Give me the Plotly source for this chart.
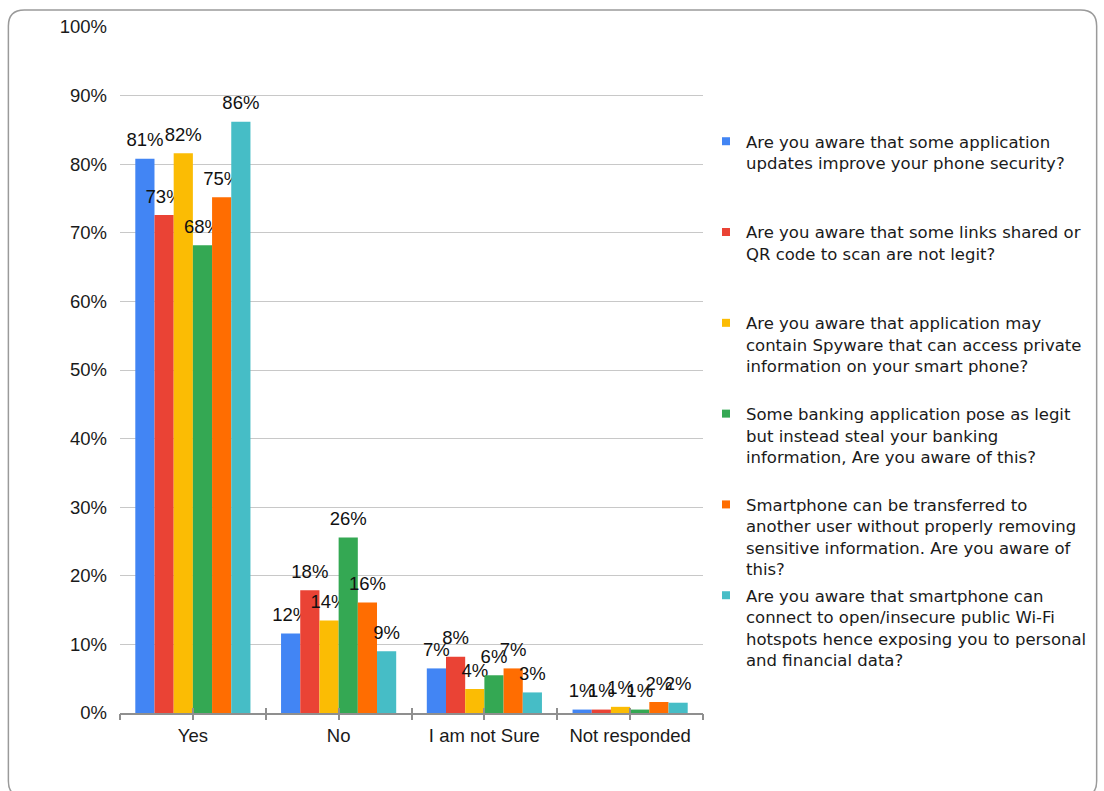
import math
import plotly.graph_objects as go

categories = ["Yes", "No", "I am not Sure", "Not responded"]

series_names = [
    "Are you aware that some application<br>updates improve your phone security?",
    "Are you aware that some links shared or<br>QR code to scan are not legit?",
    "Are you aware that application may<br>contain Spyware that can access private<br>information on your smart phone?",
    "Some banking application pose as legit<br>but instead steal your banking<br>information, Are you aware of this?",
    "Smartphone can be transferred to<br>another user without properly removing<br>sensitive information. Are you aware of<br>this?",
    "Are you aware that smartphone can<br>connect to open/insecure public Wi-Fi<br>hotspots hence exposing you to personal<br>and financial data?",
]

app_updates = [80.8, 11.6, 6.5, 0.5]
links_qr = [72.6, 17.9, 8.2, 0.5]
spyware = [81.6, 13.5, 3.5, 0.9]
banking = [68.2, 25.6, 5.5, 0.5]
transfer = [75.2, 16.1, 6.5, 1.6]
wifi = [86.2, 9.0, 3.0, 1.5]

series_values = [app_updates, links_qr, spyware, banking, transfer, wifi]
colors = ["#4285F4", "#EA4335", "#FBBC04", "#34A853", "#FF6D01", "#46BDC6"]

y_ticks = [0, 10, 20, 30, 40, 50, 60, 70, 80, 90, 100]

FONT = "Liberation Sans, Arial, sans-serif"
LEGEND_FONT = "DejaVu Sans, Liberation Sans, sans-serif"
TEXT_SIZE = 18.5

# plot area in pixels
W, H = 1104, 791
L, R, T, B = 120, 705, 27, 713


def px_x(p):
    return (p - L) / (R - L)


def px_y(p):
    return (B - p) / (B - T)


def label(v):
    return f"{math.floor(v + 0.5)}%"


fig = go.Figure()
for name, vals, col in zip(series_names, series_values, colors):
    fig.add_trace(go.Bar(
        x=categories, y=vals, name=name,
        marker=dict(color=col, line=dict(width=0)),
        text=[f"<span style='font-size:{TEXT_SIZE}px'>{label(v)}</span><br>"
              f"<span style='color:rgba(0,0,0,0)'>.</span>" for v in vals],
        textposition="outside",
        textfont=dict(family=FONT, size=6.5, color="#111111"),
        constraintext="none",
        cliponaxis=False,
        showlegend=False,
        hoverinfo="skip",
    ))

# legend entries (small square markers)
for i, (name, col) in enumerate(zip(series_names, colors)):
    nlines = name.count("<br>") + 1
    padded = name + "<br> " * (4 - nlines)
    fig.add_trace(go.Scatter(
        x=[None], y=[None], mode="markers", name=padded,
        marker=dict(symbol="square", size=8, color=col),
        legendgroup=f"g{i}", hoverinfo="skip",
    ))

# tick marks on the category axis (boundaries and centers, crossing the line)
half_ticks = [k / 2 - 0.5 for k in range(9)]
fig.add_trace(go.Scatter(x=[], y=[], xaxis="x2", yaxis="y", showlegend=False, hoverinfo="skip"))
fig.add_trace(go.Scatter(x=[], y=[], xaxis="x3", yaxis="y", showlegend=False, hoverinfo="skip"))

# rounded border around the chart
bl, br, bt, bb, rad = 8, 1100, 10, 797, 16
rx = rad / (R - L)
ry = rad / (B - T)
x0, x1, y0, y1 = px_x(bl), px_x(br), px_y(bb), px_y(bt)
path = (f"M {x0} {y1-ry} Q {x0} {y1} {x0+rx} {y1} L {x1-rx} {y1} Q {x1} {y1} {x1} {y1-ry} "
        f"L {x1} {y0+ry} Q {x1} {y0} {x1-rx} {y0} L {x0+rx} {y0} Q {x0} {y0} {x0} {y0+ry} Z")

fig.update_layout(
    width=W, height=H,
    margin=dict(l=L, r=W - R, t=T, b=H - B, pad=0),
    paper_bgcolor="white", plot_bgcolor="white",
    barmode="group", bargap=0.21, bargroupgap=0,
    font=dict(family=FONT, size=TEXT_SIZE, color="#1a1a1a"),
    xaxis=dict(
        type="category", range=[-0.5, 3.5],
        showgrid=False, zeroline=False,
        showline=True, linecolor="#8f8f8f", linewidth=2,
        ticks="", ticklabelstandoff=5,
        tickfont=dict(family=FONT, size=TEXT_SIZE, color="#1a1a1a"),
    ),
    xaxis2=dict(
        overlaying="x", anchor="y", range=[-0.5, 3.5],
        tickmode="array", tickvals=half_ticks, showticklabels=False,
        ticks="outside", ticklen=6, tickwidth=1.5, tickcolor="#8f8f8f",
        showgrid=False, zeroline=False, showline=False, fixedrange=True,
    ),
    xaxis3=dict(
        overlaying="x", anchor="y", range=[-0.5, 3.5],
        tickmode="array", tickvals=half_ticks, showticklabels=False,
        ticks="inside", ticklen=5, tickwidth=1.5, tickcolor="#8f8f8f",
        showgrid=False, zeroline=False, showline=False, fixedrange=True,
    ),
    yaxis=dict(
        range=[0, 100], tickmode="array", tickvals=y_ticks,
        ticktext=[f"{t}%" for t in y_ticks],
        showgrid=True, gridcolor="#c8c8c8", gridwidth=1,
        zeroline=False, showline=False, ticks="", ticklabelstandoff=12,
        tickfont=dict(family=FONT, size=TEXT_SIZE, color="#1a1a1a"),
    ),
    legend=dict(
        x=px_x(708), xanchor="left", y=px_y(124), yanchor="top",
        font=dict(family=LEGEND_FONT, size=16.5, color="#1a1a1a"),
        valign="top", tracegroupgap=2, traceorder="grouped",
        bgcolor="rgba(0,0,0,0)",
    ),
    shapes=[dict(type="path", xref="paper", yref="paper", path=path,
                 line=dict(color="#9a9a9a", width=1.5), fillcolor="rgba(0,0,0,0)", layer="below")],
)

fig.write_html("out.html")
